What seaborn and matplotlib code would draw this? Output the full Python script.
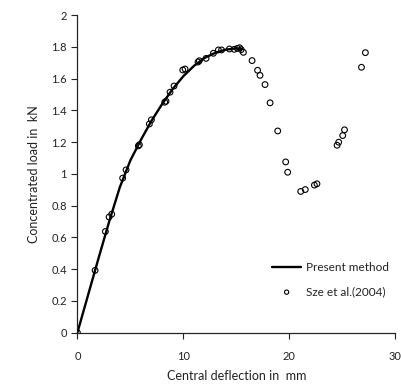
import pandas as pd
import matplotlib.pyplot as plt
import seaborn as sns

# Present method (smooth curve)
line_x = [0, 1, 2, 3, 4, 5, 6, 7, 8, 9, 10, 11, 12, 13, 14, 15, 15.5]
line_y = [0, 0.235, 0.47, 0.70, 0.915, 1.085, 1.215, 1.335, 1.44, 1.535, 1.615, 1.68, 1.73, 1.762, 1.782, 1.79, 1.786]

# Sze et al. (2004) reference points
sze_x = [0, 1.67, 2.64, 2.99, 3.24, 4.27, 4.59, 5.75, 5.85, 6.79, 6.98, 8.24, 8.36,
         8.74, 9.12, 9.94, 10.16, 11.38, 11.5, 12.14, 12.83, 13.3, 13.6, 14.34, 14.8,
         15.1, 15.3, 15.45, 15.66, 16.48, 17.0, 17.23, 17.7, 18.18, 18.9, 19.65, 19.84,
         21.07, 21.5, 22.36, 22.6, 24.5, 24.65, 25.03, 25.2, 26.8, 27.17]
sze_y = [0, 0.392, 0.637, 0.728, 0.746, 0.973, 1.025, 1.176, 1.183, 1.314, 1.34, 1.451, 1.457,
         1.514, 1.553, 1.654, 1.66, 1.704, 1.712, 1.727, 1.759, 1.78, 1.78, 1.786, 1.784,
         1.79, 1.794, 1.782, 1.765, 1.713, 1.652, 1.62, 1.562, 1.447, 1.27, 1.075, 1.01,
         0.889, 0.901, 0.929, 0.937, 1.18, 1.199, 1.241, 1.277, 1.671, 1.763]

line_df = pd.DataFrame({'x': line_x, 'y': line_y})
sze_df = pd.DataFrame({'x': sze_x, 'y': sze_y})

sns.set_style('ticks')
plt.rcParams['font.family'] = ['Lato', 'DejaVu Sans']
text_color = '#222222'

fig = plt.figure(figsize=(4.01, 3.85), dpi=100)
ax = fig.add_axes([0.193, 0.136, 0.793, 0.825])

sns.lineplot(data=line_df, x='x', y='y', ax=ax, color='black', linewidth=1.7,
             label='Present method', sort=False)
sns.scatterplot(data=sze_df, x='x', y='y', ax=ax, marker='o', s=17,
                facecolor='none', edgecolor='black', linewidth=0.8,
                label='Sze et al.(2004)', zorder=3)

ax.set_xlim(0, 30)
ax.set_ylim(0, 2)
ax.set_xticks([0, 10, 20, 30])
ax.set_yticks([0, 0.2, 0.4, 0.6, 0.8, 1, 1.2, 1.4, 1.6, 1.8, 2])
ax.set_yticklabels(['0', '0.2', '0.4', '0.6', '0.8', '1', '1.2', '1.4', '1.6', '1.8', '2'])
ax.tick_params(axis='both', labelsize=8, colors=text_color, length=4, width=0.8)
ax.tick_params(axis='x', pad=9)
for s in ['top', 'right']:
    ax.spines[s].set_visible(False)
for s in ['left', 'bottom']:
    ax.spines[s].set_linewidth(0.9)
ax.set_xlabel('Central deflection in  mm', fontsize=9, color=text_color, labelpad=6)
ax.set_ylabel('Concentrated load in  kN', fontsize=9, color=text_color, labelpad=8)

ax.legend(loc='upper left', bbox_to_anchor=(0.58, 0.255), frameon=False,
          fontsize=8.5, handlelength=2.4, handletextpad=0.4, labelspacing=1.1,
          markerscale=0.75, labelcolor=text_color)

fig.savefig('out.png', dpi=100)
